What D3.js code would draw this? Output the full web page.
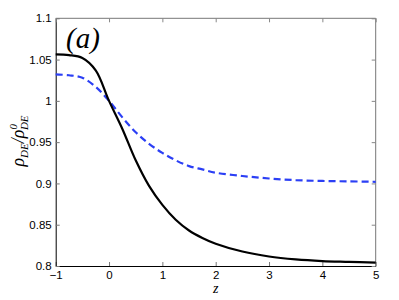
<!DOCTYPE html>
<html>
<head>
<meta charset="utf-8">
<script src="https://cdn.jsdelivr.net/npm/d3@7"></script>
<style>
  body { margin: 0; background: #fff; }
  svg { display: block; }
</style>
</head>
<body>
<div class="svg-container"></div>
<script>
// redshift samples
const zValues = [-1, -0.75, -0.5, -0.25, 0, 0.25, 0.5, 0.75, 1, 1.25, 1.5, 1.75, 2, 2.5, 3, 3.5, 4, 4.5, 5];
// solid black model
const solidSeries = [1.0564, 1.0555, 1.0520, 1.0370, 1.0, 0.966, 0.928, 0.897, 0.874, 0.856, 0.843, 0.834, 0.827, 0.8175, 0.8115, 0.808, 0.806, 0.805, 0.804];
// dashed blue model
const dashedSeries = [1.032, 1.031, 1.028, 1.017, 1.0, 0.980, 0.962, 0.948, 0.937, 0.928, 0.921, 0.917, 0.913, 0.909, 0.906, 0.904, 0.903, 0.9025, 0.902];
const xTicks = [-1, 0, 1, 2, 3, 4, 5];
const yTicks = [0.8, 0.85, 0.9, 0.95, 1, 1.05, 1.1];

function renderChart() {

  // set up dimensions
  const width = 399;
  const height = 300;
  const margin = { top: 18.3, right: 23.3, bottom: 34, left: 55.7 };

  const svg = d3.select('.svg-container')
    .append('svg')
    .attr('width', width)
    .attr('height', height);

  const x = d3.scaleLinear().domain([-1, 5]).range([margin.left, width - margin.right]);
  const y = d3.scaleLinear().domain([0.8, 1.1]).range([height - margin.bottom, margin.top]);

  const tickFont = '"Liberation Sans", Arial, sans-serif';

  // box frame (top/right lighter like matlab)
  svg.append('line')
    .attr('x1', x(-1)).attr('x2', x(5)).attr('y1', y(1.1)).attr('y2', y(1.1))
    .attr('stroke', '#777').attr('stroke-width', 1);
  svg.append('line')
    .attr('x1', x(5)).attr('x2', x(5)).attr('y1', y(0.8)).attr('y2', y(1.1))
    .attr('stroke', '#777').attr('stroke-width', 1);

  // axes with inward ticks
  const bottomAxis = svg.append('g')
    .attr('transform', `translate(0,${y(0.8)})`)
    .call(d3.axisBottom(x).tickValues(xTicks).tickSizeInner(-4).tickSizeOuter(0)
      .tickFormat(d => d < 0 ? '\u2212' + Math.abs(d) : d));
  bottomAxis.select('.domain').attr('stroke', '#000');
  bottomAxis.selectAll('.tick line').attr('stroke', '#777');
  bottomAxis.selectAll('text')
    .attr('y', 5).attr('font-family', tickFont).attr('font-size', 11.5).attr('fill', '#000');

  const leftAxis = svg.append('g')
    .attr('transform', `translate(${x(-1)},0)`)
    .call(d3.axisLeft(y).tickValues(yTicks).tickSizeInner(-4).tickSizeOuter(0)
      .tickFormat(d => String(+d.toFixed(2))));
  leftAxis.select('.domain').attr('stroke', '#000');
  leftAxis.selectAll('.tick line').attr('stroke', '#777');
  leftAxis.selectAll('text')
    .attr('x', -4).attr('font-family', tickFont).attr('font-size', 11.5).attr('fill', '#000');

  // mirrored ticks on top and right
  svg.append('g')
    .attr('transform', `translate(0,${y(1.1)})`)
    .call(d3.axisTop(x).tickValues(xTicks).tickSizeInner(-4).tickSizeOuter(0).tickFormat(''))
    .call(g => g.select('.domain').remove())
    .selectAll('.tick line').attr('stroke', '#888');
  svg.append('g')
    .attr('transform', `translate(${x(5)},0)`)
    .call(d3.axisRight(y).tickValues(yTicks).tickSizeInner(-4).tickSizeOuter(0).tickFormat(''))
    .call(g => g.select('.domain').remove())
    .selectAll('.tick line').attr('stroke', '#888');

  // curves
  const line = d3.line()
    .x((d, i) => x(zValues[i]))
    .y(d => y(d))
    .curve(d3.curveCatmullRom.alpha(0.5));

  svg.append('path')
    .datum(dashedSeries)
    .attr('d', line)
    .attr('fill', 'none')
    .attr('stroke', '#2b3ff5')
    .attr('stroke-width', 2.2)
    .attr('stroke-dasharray', '7,4');

  svg.append('path')
    .datum(solidSeries)
    .attr('d', line)
    .attr('fill', 'none')
    .attr('stroke', '#000')
    .attr('stroke-width', 2.2);

  // panel label
  svg.append('text')
    .attr('x', 66).attr('y', 48)
    .attr('font-family', '"Liberation Serif", "DejaVu Serif", serif')
    .attr('font-style', 'italic')
    .attr('font-size', 29)
    .text('(a)');

  // x label
  svg.append('text')
    .attr('x', x(2)).attr('y', 293)
    .attr('text-anchor', 'middle')
    .attr('font-family', '"Liberation Serif", serif')
    .attr('font-style', 'italic')
    .attr('font-size', 14)
    .text('z');

  // y label
  const yl = svg.append('text')
    .attr('transform', 'translate(24,141) rotate(-90)')
    .attr('text-anchor', 'middle')
    .attr('font-family', '"Liberation Serif", serif')
    .attr('font-style', 'italic')
    .attr('font-size', 18);
  yl.append('tspan').text('ρ');
  yl.append('tspan').attr('font-size', 11).attr('dy', 4).text('DE');
  yl.append('tspan').attr('dy', -4).text('/ρ');
  yl.append('tspan').attr('font-size', 11).attr('dy', -7).text('0');
  yl.append('tspan').attr('font-size', 11).attr('dx', -6).attr('dy', 11).text('DE');
}

renderChart();
</script>
</body>
</html>
